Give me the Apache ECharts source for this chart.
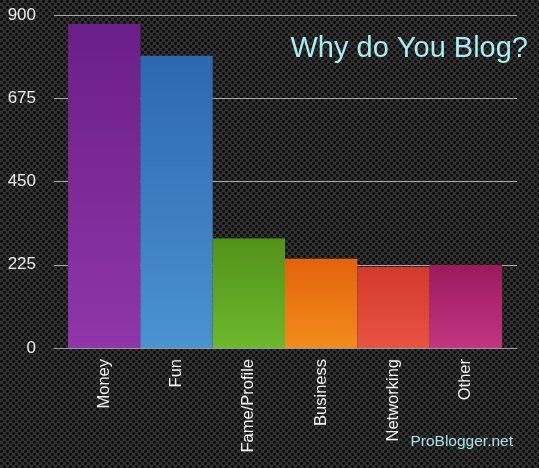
<!DOCTYPE html>
<html><head><meta charset="utf-8">
<script src="https://cdn.jsdelivr.net/npm/echarts@6/dist/echarts.min.js"></script>
<style>html,body{margin:0;padding:0;background:#1c1c1c}#c{width:539px;height:468px}</style>
</head><body><div id="c"></div>
<script>
const categories = ['Money', 'Fun', 'Fame/Profile', 'Business', 'Networking', 'Other'];
const values = [876, 790, 296, 241, 219, 224];
const yTicks = [0, 225, 450, 675, 900];
const barColors = [
  ['#6a1e88', '#8f36a9'],
  ['#2d67ae', '#4b92d2'],
  ['#54921a', '#6cb82c'],
  ['#e4620a', '#f28c1c'],
  ['#d3392b', '#e85444'],
  ['#9c1a5e', '#c23582']
];

// carbon-fibre style dotted background tile
const tile = document.createElement('canvas');
tile.width = 6; tile.height = 6;
const tc = tile.getContext('2d');
tc.fillStyle = '#323232'; tc.fillRect(0, 0, 6, 6);
tc.fillStyle = '#0a0a0a';
[[1.5, 1.5], [4.5, 4.5]].forEach(p => { tc.beginPath(); tc.arc(p[0], p[1], 1.45, 0, Math.PI * 2); tc.fill(); });

const chart = echarts.init(document.getElementById('c'));
chart.setOption({
  backgroundColor: { image: tile, repeat: 'repeat' },
  animation: false,
  title: [
    { text: 'Why do You Blog?', right: 6, top: 29,
      textStyle: { color: '#a6eef0', fontSize: 29, fontWeight: 'normal', fontFamily: 'Liberation Sans' } },
    { text: 'ProBlogger.net', right: 21, top: 429,
      textStyle: { color: '#a4e4e6', fontSize: 15.5, fontWeight: 'normal', fontFamily: 'Liberation Sans' } }
  ],
  grid: [
    { left: 54, right: 22, top: 15, bottom: 120 },
    { left: 68, right: 37, top: 15, bottom: 120 }
  ],
  xAxis: [
    { gridIndex: 0, type: 'value', min: 0, max: 1, show: true,
      axisLine: { show: true, lineStyle: { color: '#9a9a9a', width: 1 } },
      axisTick: { show: false }, axisLabel: { show: false }, splitLine: { show: false } },
    { gridIndex: 1, type: 'category', data: categories,
      axisLine: { show: false }, axisTick: { show: false },
      axisLabel: { rotate: 90, color: '#f2f2f2', fontSize: 16.5, margin: 11, fontFamily: 'Liberation Sans', interval: 0 } }
  ],
  yAxis: [
    { gridIndex: 0, type: 'value', min: yTicks[0], max: yTicks[yTicks.length - 1], interval: 225,
      axisLine: { show: false }, axisTick: { show: false },
      axisLabel: { color: '#ececec', fontSize: 17, margin: 18, fontFamily: 'Liberation Sans' },
      splitLine: { show: true, lineStyle: { color: '#a8a8a8', width: 1 } } },
    { gridIndex: 1, type: 'value', min: 0, max: 900, show: false, splitLine: { show: false } }
  ],
  series: [{
    type: 'bar', xAxisIndex: 1, yAxisIndex: 1, barCategoryGap: '0%', z: 5,
    data: values.map((v, i) => ({
      value: v,
      itemStyle: { color: new echarts.graphic.LinearGradient(0, 0, 0, 1, [
        { offset: 0, color: barColors[i][0] }, { offset: 1, color: barColors[i][1] }]) }
    }))
  }]
});
</script></body></html>
